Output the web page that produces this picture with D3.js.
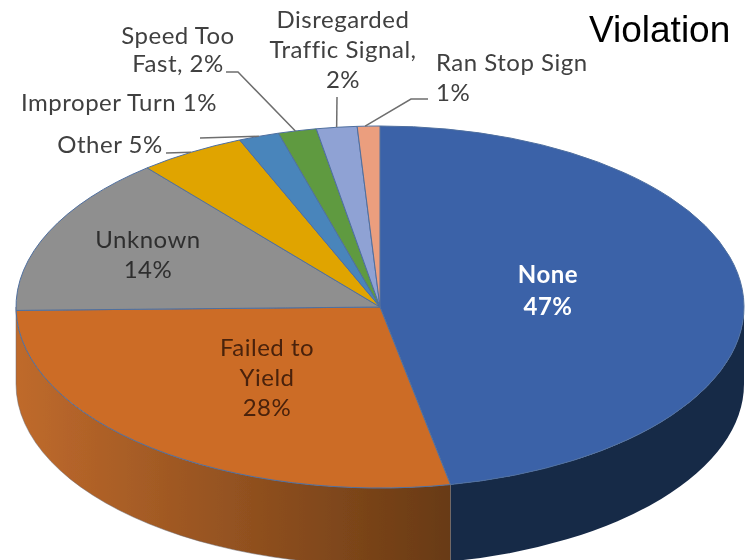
<!DOCTYPE html>
<html>
<head>
<meta charset="utf-8">
<style>
body { margin: 0; background: #fff; }
text { font-family: Lato, "Noto Sans", sans-serif; fill: #404040; }
</style>
<script src="https://d3js.org/d3.v7.min.js"></script>
</head>
<body>
<div id="chart"></div>
<script>
// clockwise from 12 o'clock. slices read from the drawn width, not the rounded label
const categories = ["None", "Failed to Yield", "Unknown", "Other", "Improper Turn", "Speed Too Fast", "Disregarded Traffic Signal", "Ran Stop Sign"];
const values = [46.9, 27.8, 14.25, 4.75, 1.8, 1.7, 1.8, 1];
const colors = ["#3a62a8", "#cc6c27", "#8f8f8f", "#e0a400", "#4a85bb", "#5f9a3f", "#8fa2d4", "#eb9e7e"];
const textColors = ["#fff", "#4a2208", "#2f2f2f", "#404040", "#404040", "#404040", "#404040", "#404040"];
const labelLines = [
  ["None", "47%"],
  ["Failed to", "Yield", "28%"],
  ["Unknown", "14%"],
  ["Other 5%"],
  ["Improper Turn 1%"],
  ["Speed Too", "Fast, 2%"],
  ["Disregarded", "Traffic Signal,", "2%"],
  ["Ran Stop Sign", "1%"]
];

const w = 754;
const h = 560;
const cx = 380;
const cy = 307;
const rx = 364;
const ry = 181;
const depth = 77;

const svg = d3.select("#chart").append("svg")
  .attr("width", w)
  .attr("height", h)
  .style("display", "block");

const defs = svg.append("defs");
const grad = defs.append("linearGradient")
  .attr("id", "orangeWall")
  .attr("gradientUnits", "userSpaceOnUse")
  .attr("x1", cx - rx).attr("x2", 451).attr("y1", 0).attr("y2", 0);
grad.append("stop").attr("offset", 0).attr("stop-color", "#bf6a2c");
grad.append("stop").attr("offset", 1).attr("stop-color", "#683a14");

// the reference is a soft, upscaled screenshot
defs.append("filter").attr("id", "soft")
  .append("feGaussianBlur").attr("stdDeviation", 0.5);

const root = svg.append("g").attr("filter", "url(#soft)");

const pie = d3.pie().sort(null).value(d => d);
const slices = pie(values);
const arc = d3.arc().innerRadius(0).outerRadius(rx);

// pie angle -> point on the flattened rim
function rim(a) {
  return [cx + rx * Math.sin(a), cy - ry * Math.cos(a)];
}

function wallPath(a0, a1) {
  const p0 = rim(a0), p1 = rim(a1);
  const path = `M${p0[0]},${p0[1]} A${rx},${ry} 0 0 1 ${p1[0]},${p1[1]}`;
  return path + ` L${p1[0]},${p1[1] + depth} A${rx},${ry} 0 0 0 ${p0[0]},${p0[1] + depth} Z`;
}

// front wall, only the two slices that reach the lower half show
const right = Math.PI / 2;
const left = Math.PI * 1.5;
root.append("path").attr("d", wallPath(right, slices[0].endAngle)).attr("fill", "#162947");
root.append("path").attr("d", wallPath(slices[1].startAngle, left))
  .attr("fill", "url(#orangeWall)")
  .attr("stroke", "#6d6a70").attr("stroke-width", 0.5);

root.append("g")
  .attr("transform", `translate(${cx},${cy}) scale(1,${ry / rx})`)
  .selectAll("path")
  .data(slices)
  .enter()
  .append("path")
  .attr("d", arc)
  .attr("fill", (d, i) => colors[i])
  .attr("stroke", "#4f6f9f")
  .attr("stroke-width", 1)
  .attr("vector-effect", "non-scaling-stroke");

// label placement: x, first line y, line step, anchor
const labelPos = [
  { x: 548, y: 283, step: 32, anchor: "middle", bold: true },
  { x: 267, y: 356, step: 30, anchor: "middle" },
  { x: 148, y: 248, step: 30, anchor: "middle" },
  { x: 110, y: 153, step: 30, anchor: "middle" },
  { x: 119, y: 111, step: 30, anchor: "middle" },
  { x: 178, y: 44, step: 28, anchor: "middle" },
  { x: 343, y: 28, step: 30, anchor: "middle" },
  { x: 436, y: 71, step: 30, anchor: "start" }
];

const labels = root.append("g");
labelLines.forEach((lines, i) => {
  const p = labelPos[i];
  const t = labels.append("text")
    .attr("text-anchor", p.anchor)
    .attr("font-size", 24)
    .attr("letter-spacing", 0.5)
    .attr("font-weight", p.bold ? 700 : 400)
    .style("fill", textColors[i]);
  lines.forEach((s, j) => {
    t.append("tspan").attr("x", p.x).attr("y", p.y + j * p.step).text(s);
  });
});

// leader lines: points beside the label, the far end sits on the slice
const leaders = [
  { slice: 3, from: [[166, 153]], at: 0.5 },
  { slice: 4, from: [[200, 138]], at: 0.5 },
  { slice: 5, from: [[226, 72], [238, 72]], at: 0.45 },
  { slice: 6, from: [[337, 97]], at: 0.5 },
  { slice: 7, from: [[428, 99], [411, 99]], at: 0.35 }
];
const line = d3.line();
leaders.forEach(l => {
  const s = slices[l.slice];
  const end = rim(s.startAngle + (s.endAngle - s.startAngle) * l.at);
  root.append("path")
    .attr("d", line(l.from.concat([end])))
    .attr("fill", "none")
    .attr("stroke", "#6e6e6e")
    .attr("stroke-width", 1.5);
});

root.append("text")
  .attr("x", 589)
  .attr("y", 42)
  .attr("font-size", 37)
  .style("font-family", "'Liberation Sans', Arial, sans-serif")
  .style("fill", "#000")
  .text("Violation");
</script>
</body>
</html>
